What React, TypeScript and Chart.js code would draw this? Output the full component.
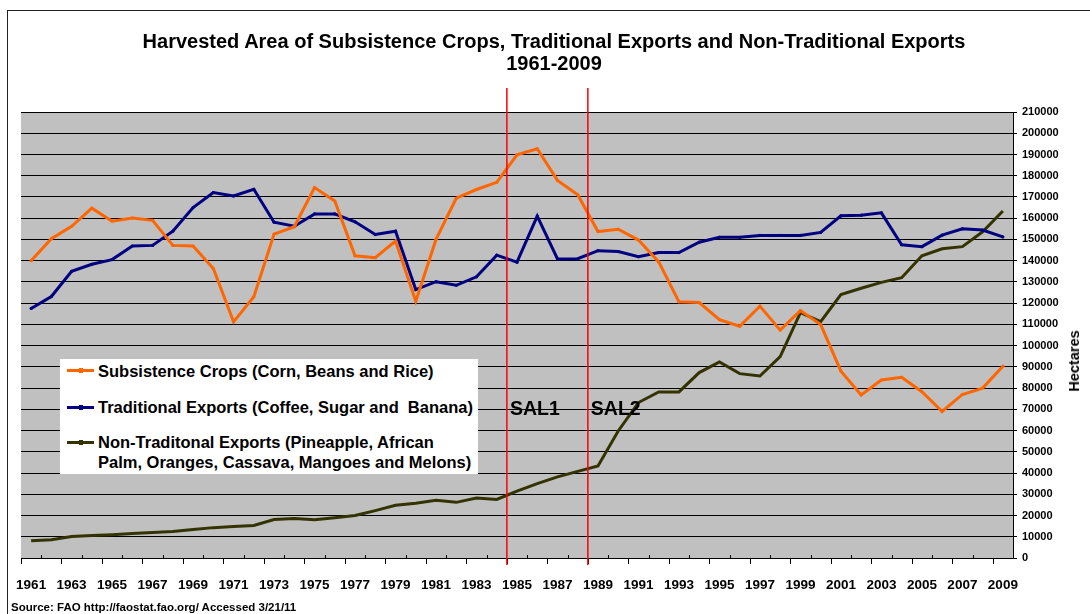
import React, { useEffect, useRef } from "react";
import { Chart, registerables } from "chart.js";

Chart.register(...registerables);

// ---------- data ----------
const years = [
  "1961", "1962", "1963", "1964", "1965", "1966", "1967", "1968", "1969", "1970",
  "1971", "1972", "1973", "1974", "1975", "1976", "1977", "1978", "1979", "1980",
  "1981", "1982", "1983", "1984", "1985", "1986", "1987", "1988", "1989", "1990",
  "1991", "1992", "1993", "1994", "1995", "1996", "1997", "1998", "1999", "2000",
  "2001", "2002", "2003", "2004", "2005", "2006", "2007", "2008", "2009",
];

const subsistence = [
  140000, 150300, 156200, 164700, 158600, 160100, 159000, 147200, 146900, 136300,
  111200, 123000, 152500, 156000, 174400, 168100, 142300, 141400, 149200, 120900,
  150000, 169400, 173500, 176900, 189800, 192700, 177800, 171000, 153700, 154800,
  149700, 139400, 120600, 120300, 112200, 109100, 118600, 107300, 116500, 109900,
  88000, 76800, 83800, 85100, 78300, 69000, 77000, 80000, 90300,
];

const traditional = [
  117500, 123100, 135000, 138300, 140500, 146900, 147200, 153900, 165000, 172100,
  170500, 173600, 158100, 156200, 162000, 162000, 158300, 152300, 153900, 126400,
  130100, 128400, 132400, 142600, 139300, 161000, 140800, 140900, 144700, 144300,
  141900, 143800, 143800, 148700, 151000, 151000, 151900, 151900, 151900, 153300,
  161100, 161400, 162500, 147500, 146600, 152000, 155000, 154400, 151200,
];

const nonTraditional = [
  8100, 8600, 10100, 10600, 11000, 11500, 12000, 12500, 13400, 14300,
  14800, 15300, 18100, 18600, 18000, 18900, 20000, 22300, 24800, 25800,
  27200, 26200, 28200, 27600, 31500, 35000, 38200, 40800, 43300, 59800,
  73200, 78200, 78200, 87300, 92300, 86800, 85700, 94800, 115500, 111300,
  124000, 127000, 129800, 132000, 142300, 145600, 146600, 153600, 163400,
];

const seriesNames = [
  "Subsistence Crops (Corn, Beans and Rice)",
  "Traditional Exports (Coffee, Sugar and  Banana)",
  "Non-Traditonal Exports (Pineapple, African",
];
const seriesNameLine2 = "Palm, Oranges, Cassava, Mangoes and Melons)";

const yMin = 0;
const yMax = 210000;
const yStep = 10000;

const salNames = ["SAL1", "SAL2"];
const salStartYears = ["1985", "1989"];
const salLabelLevel = 70000;

const titleLines = [
  "Harvested Area of Subsistence Crops, Traditional Exports and Non-Traditional Exports",
  "1961-2009",
];
const yTitle = "Hectares";
const sourceText = "Source: FAO http://faostat.fao.org/ Accessed 3/21/11";

// ---------- styles ----------
const FONT = "'Liberation Sans', Arial, Helvetica, sans-serif";
const ORANGE = "#FF6600";
const NAVY = "#000080";
const OLIVE = "#333300";
const PLOT_BG = "#C0C0C0";

const overlayPlugin = {
  id: "overlay",
  beforeDraw(chart: any) {
    const { ctx, chartArea: a } = chart;
    ctx.save();
    ctx.fillStyle = PLOT_BG;
    ctx.fillRect(a.left, a.top, a.right - a.left, a.bottom - a.top);
    ctx.restore();
  },
  afterDraw(chart: any) {
    const { ctx, chartArea: a } = chart;
    const xs = chart.scales.x;
    const ys = chart.scales.y;
    const n = years.length;
    const step = (a.right - a.left) / n;
    ctx.save();
    // category boundary tick marks
    ctx.strokeStyle = "#000";
    ctx.lineWidth = 1;
    for (let i = 0; i <= n; i++) {
      const px = Math.round(a.left + i * step) + 0.5;
      ctx.beginPath();
      if (i % 2 === 0) {
        ctx.moveTo(px, a.bottom);
        ctx.lineTo(px, a.bottom + 6);
      } else {
        ctx.moveTo(px, a.bottom - 3);
        ctx.lineTo(px, a.bottom);
      }
      ctx.stroke();
    }
    // SAL markers
    salStartYears.forEach((yr, k) => {
      const i = years.indexOf(yr);
      const px = (xs.getPixelForValue(i - 1) + xs.getPixelForValue(i)) / 2;
      ctx.strokeStyle = "#FF0000";
      ctx.lineWidth = 1.5;
      ctx.beginPath();
      ctx.moveTo(px, a.top - 24);
      ctx.lineTo(px, a.bottom + 7);
      ctx.stroke();
      ctx.fillStyle = "#000";
      ctx.font = `bold 19.5px ${FONT}`;
      ctx.textAlign = "left";
      ctx.textBaseline = "middle";
      ctx.fillText(salNames[k], px + 3, ys.getPixelForValue(salLabelLevel));
    });
    ctx.restore();
  },
};

function LegendSample({ color }: { color: string }) {
  return (
    <div style={{ position: "absolute", left: 7, top: 8.5, width: 27, height: 3, background: color }}>
      <div
        style={{
          position: "absolute",
          left: 11.5,
          top: -1,
          width: 4,
          height: 5,
          background: color,
        }}
      />
    </div>
  );
}

export default function App() {
  const canvasRef = useRef<HTMLCanvasElement | null>(null);

  useEffect(() => {
    const canvas = canvasRef.current;
    if (!canvas) return;
    const chart = new Chart(canvas, {
      type: "line",
      data: {
        labels: years,
        datasets: [
          {
            label: seriesNames[0],
            data: subsistence,
            borderColor: ORANGE,
            backgroundColor: ORANGE,
            borderWidth: 3,
            pointRadius: 1.6,
            pointBorderWidth: 0,
            tension: 0,
          },
          {
            label: seriesNames[1],
            data: traditional,
            borderColor: NAVY,
            backgroundColor: NAVY,
            borderWidth: 3,
            pointRadius: 1.6,
            pointBorderWidth: 0,
            tension: 0,
          },
          {
            label: seriesNames[2],
            data: nonTraditional,
            borderColor: OLIVE,
            backgroundColor: OLIVE,
            borderWidth: 3,
            pointRadius: 0,
            tension: 0,
          },
        ],
      },
      options: {
        responsive: false,
        animation: false,
        devicePixelRatio: 1,
        layout: { padding: { left: 21, top: 112, right: 0, bottom: 0 } },
        plugins: {
          legend: { display: false },
          title: { display: false },
          tooltip: { enabled: false },
        },
        scales: {
          x: {
            type: "category",
            offset: true,
            grid: { display: false, drawTicks: false },
            border: { display: true, color: "#000", width: 1 },
            ticks: {
              autoSkip: false,
              maxRotation: 0,
              minRotation: 0,
              padding: 19,
              color: "#000",
              font: { family: FONT, weight: "bold", size: 13.5 },
              callback: (_v: any, i: number) => (i % 2 === 0 ? years[i] : ""),
            },
            afterFit: (s: any) => {
              s.height = 56;
              s.paddingLeft = 0;
              s.paddingRight = 0;
            },
          },
          y: {
            position: "right",
            min: yMin,
            max: yMax,
            grid: {
              color: "#000",
              lineWidth: 1,
              drawTicks: true,
              tickLength: 4,
              tickColor: "#000",
            },
            border: { display: true, color: "#000", width: 1 },
            ticks: {
              stepSize: yStep,
              padding: 5,
              color: "#000",
              font: { family: FONT, weight: "bold", size: 11 },
              callback: (v: any) => String(v),
            },
            afterFit: (s: any) => {
              s.width = 77;
              s.paddingTop = 0;
              s.paddingBottom = 0;
            },
          },
        },
      } as any,
      plugins: [overlayPlugin],
    });
    return () => chart.destroy();
  }, []);

  const itemText: React.CSSProperties = {
    position: "absolute",
    left: 38,
    lineHeight: "20px",
    whiteSpace: "pre",
  };

  return (
    <div
      style={{
        position: "absolute",
        left: 0,
        top: 0,
        width: 1090,
        height: 614,
        overflow: "hidden",
        background: "#fff",
        fontFamily: FONT,
        color: "#000",
      }}
    >
      <div
        style={{
          position: "absolute",
          left: 7,
          top: 10,
          width: 1200,
          height: 800,
          borderLeft: "1.5px solid #222",
          borderTop: "1.5px solid #222",
        }}
      />
      <canvas
        ref={canvasRef}
        width={1090}
        height={614}
        style={{ position: "absolute", left: 0, top: 0, width: 1090, height: 614 }}
      />
      <div
        style={{
          position: "absolute",
          left: 0,
          top: 30,
          width: 1108,
          textAlign: "center",
          fontWeight: "bold",
          fontSize: 20,
          lineHeight: "22px",
        }}
      >
        {titleLines.map((t) => (
          <div key={t}>{t}</div>
        ))}
      </div>
      <div
        style={{
          position: "absolute",
          left: 60,
          top: 359,
          width: 418,
          height: 115,
          background: "#fff",
          fontWeight: "bold",
          fontSize: 16.5,
        }}
      >
        <div style={{ position: "absolute", left: 0, top: 1.7, width: 418, height: 20 }}>
          <LegendSample color={ORANGE} />
          <div style={{ ...itemText, top: 0 }}>{seriesNames[0]}</div>
        </div>
        <div style={{ position: "absolute", left: 0, top: 38.3, width: 418, height: 20 }}>
          <LegendSample color={NAVY} />
          <div style={{ ...itemText, top: 0 }}>{seriesNames[1]}</div>
        </div>
        <div style={{ position: "absolute", left: 0, top: 73.3, width: 418, height: 40 }}>
          <LegendSample color={OLIVE} />
          <div style={{ ...itemText, top: 0 }}>
            {seriesNames[2]}
            {"\n"}
            {seriesNameLine2}
          </div>
        </div>
      </div>
      <div
        style={{
          position: "absolute",
          left: 1074,
          top: 361,
          transform: "translate(-50%, -50%) rotate(-90deg)",
          whiteSpace: "nowrap",
          fontWeight: "bold",
          fontSize: 14.5,
        }}
      >
        {yTitle}
      </div>
      <div
        style={{
          position: "absolute",
          left: 11,
          top: 600,
          whiteSpace: "nowrap",
          fontWeight: "bold",
          fontSize: 11.5,
          lineHeight: "14px",
        }}
      >
        {sourceText}
      </div>
    </div>
  );
}
